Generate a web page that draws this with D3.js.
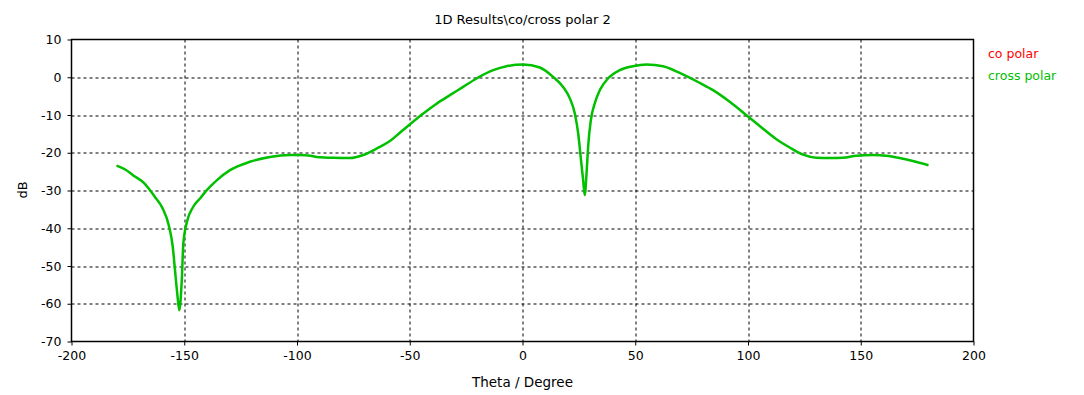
<!DOCTYPE html>
<html>
<head>
<meta charset="utf-8">
<script src="https://cdn.jsdelivr.net/npm/d3@7"></script>
<style>
  body { margin: 0; background: #fff; }
  svg text { font-family: "DejaVu Sans", sans-serif; font-size: 12px; }
  .grid line { stroke: #000; stroke-dasharray: 3,3; }
</style>
</head>
<body>
<svg id="chart" width="1084" height="395"></svg>
<script>
// Chart data
const title = "1D Results\\co/cross polar 2";
const xTicks = [-200, -150, -100, -50, 0, 50, 100, 150, 200];
const yTicks = [10, 0, -10, -20, -30, -40, -50, -60, -70];
const seriesNames = ["co polar", "cross polar"];
const seriesColors = ["#ff0000", "#00c000"];

const theta = [-180, -176, -172.6, -167.7, -163, -159.7, -156.7, -155.1, -154.1, -153.1, -152.2,
  -151.1, -150.4, -148.6, -146, -143, -140, -135.6, -129.7, -120.9, -112, -103, -98.7, -94,
  -91.3, -83.9, -76.5, -70.6, -64.7, -58.8, -54.4, -50, -44, -38.1, -32.2, -26.3, -20.4, -13,
  -7.1, 0.3, 7.7, 13.6, 18, 21, 23.2, 24.7, 25.8, 26.9, 27.6, 28.4, 29.1, 30.3, 32, 34.3, 37.9,
  43.1, 49, 55, 62.3, 69.7, 78.6, 84.5, 91.9, 99.3, 105.2, 112.6, 118.5, 124.4, 130.3, 136.2,
  142.1, 148, 155.4, 161.3, 167.2, 173.1, 180];
const crossPolar = [-23.4, -24.5, -26, -28.1, -31.7, -34.6, -39.6, -44.9, -51.1, -57.3, -61.7,
  -53.8, -44, -37.9, -34.3, -32.1, -29.9, -27.3, -24.6, -22.4, -21.1, -20.6, -20.6, -20.8,
  -21.1, -21.35, -21.4, -20.6, -18.9, -16.9, -14.7, -12.5, -9.6, -7.0, -4.75, -2.56, -0.33, 1.87,
  2.93, 3.37, 2.58, 0.09, -2.56, -5.6, -9.6, -14.9, -21.1, -27.3, -31.2, -25.5, -18.4, -11.4, -7,
  -3.4, -0.33, 1.87, 2.93, 3.37, 2.93, 1.15, -1.5, -3.4, -6.5, -10.05, -12.9, -16.4, -18.6, -20.5,
  -21.3, -21.4, -21.3, -20.8, -20.6, -20.8, -21.4, -22.2, -23.3];
// co polar trace lies underneath the cross polar one
const coPolar = crossPolar.slice();

const svg = d3.select("#chart");
const margin = { top: 39.5, right: 110.5, bottom: 53.5, left: 71.5 };
const width = +svg.attr("width") - margin.left - margin.right;
const height = +svg.attr("height") - margin.top - margin.bottom;
const plot = svg.append("g")
  .attr("transform", "translate(" + margin.left + "," + margin.top + ")");

const x = d3.scaleLinear().domain([-200, 200]).range([0, width]);
const y = d3.scaleLinear().domain([-70, 10]).range([height, 0]);

// grid
plot.append("g").attr("class", "grid")
  .selectAll("line").data(xTicks.slice(1, -1)).join("line")
  .attr("x1", d => Math.round(x(d)) + 0.5).attr("x2", d => Math.round(x(d)) + 0.5)
  .attr("y1", 0).attr("y2", height);
plot.append("g").attr("class", "grid")
  .selectAll("line").data(yTicks.slice(1, -1)).join("line")
  .attr("x1", 0).attr("x2", width)
  .attr("y1", d => Math.round(y(d)) + 0.5).attr("y2", d => Math.round(y(d)) + 0.5);

// axes (plain hyphen minus like the original)
const fmt = d => String(d);
const xAxis = d3.axisBottom(x).tickValues(xTicks).tickFormat(fmt).tickSize(4).tickPadding(6);
const yAxis = d3.axisLeft(y).tickValues(yTicks).tickFormat(fmt).tickSize(4).tickPadding(6);
plot.append("g").attr("transform", "translate(0," + height + ")").call(xAxis)
  .call(g => g.selectAll("text").attr("fill", "#000").style("font-size", "12.5px"));
plot.append("g").call(yAxis)
  .call(g => g.selectAll("text").attr("fill", "#000").style("font-size", "12.5px"));
plot.selectAll(".domain").remove();
plot.append("rect")
  .attr("width", width).attr("height", height)
  .attr("fill", "none").attr("stroke", "#000").attr("stroke-width", 1.5);

// curves
const line = d3.line()
  .x((d, i) => x(theta[i]))
  .y(d => y(d))
  .curve(d3.curveMonotoneX);
[coPolar, crossPolar].forEach((s, k) => {
  plot.append("path").datum(s)
    .attr("d", line)
    .attr("fill", "none")
    .attr("stroke", seriesColors[k])
    .attr("stroke-width", k === 0 ? 1 : 2.5)
    .attr("stroke-linejoin", "round");
});

// texts
svg.append("text")
  .attr("x", margin.left + width / 2).attr("y", 24)
  .attr("text-anchor", "middle").style("font-size", "13px")
  .text(title);
svg.append("text")
  .attr("x", margin.left + width / 2).attr("y", 387)
  .attr("text-anchor", "middle").style("font-size", "13.5px")
  .text("Theta / Degree");
svg.append("text")
  .attr("transform", "translate(27,190) rotate(-90)")
  .attr("text-anchor", "middle").style("font-size", "13px")
  .text("dB");

// legend
svg.selectAll("text.legend").data(seriesNames).join("text")
  .attr("class", "legend")
  .attr("x", 988).attr("y", (d, i) => 58 + i * 22)
  .attr("fill", (d, i) => seriesColors[i])
  .style("font-size", "12.5px")
  .text(d => d);
</script>
</body>
</html>
